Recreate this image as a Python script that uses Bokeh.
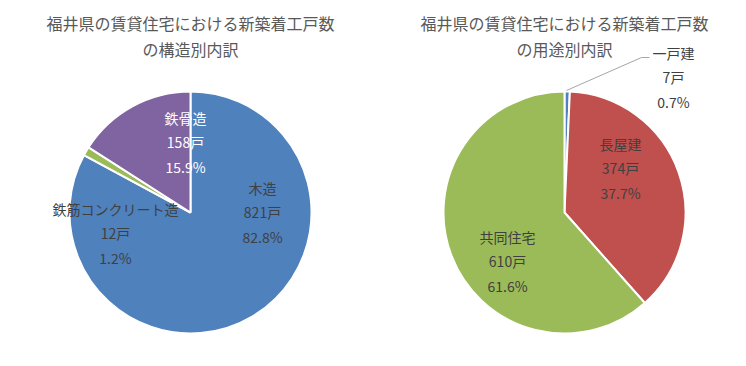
import numpy as np
from bokeh.plotting import figure
from bokeh.models import ColumnDataSource, Range1d
from bokeh.core.properties import value
from bokeh.embed import file_html
from bokeh.resources import INLINE

# ---- data ----
left_title = ["福井県の賃貸住宅における新築着工戸数", "の構造別内訳"]
left_names = ["木造", "鉄筋コンクリート造", "鉄骨造"]
left_counts = [821, 12, 158]
left_pcts = ["82.8%", "1.2%", "15.9%"]
left_colors = ["#4F81BD", "#9BBB59", "#8064A2"]
left_text_colors = ["#404040", "#404040", "#FFFFFF"]

right_title = ["福井県の賃貸住宅における新築着工戸数", "の用途別内訳"]
right_names = ["一戸建", "長屋建", "共同住宅"]
right_counts = [7, 374, 610]
right_pcts = ["0.7%", "37.7%", "61.6%"]
right_colors = ["#4F81BD", "#C0504D", "#9BBB59"]
right_text_colors = ["#404040", "#404040", "#404040"]

W, H = 730, 350
FONT = "Noto Sans CJK JP"

p = figure(width=W, height=H, output_backend="svg", toolbar_location=None,
           x_range=Range1d(-8, W - 8), y_range=Range1d(8, H + 8),
           min_border=0, outline_line_color=None)
p.axis.visible = False
p.grid.visible = False
p.background_fill_color = "white"
p.border_fill_color = "white"

R = 121

def pie(cx, cy, counts, colors, names, pcts, tcolors, title, label_offsets):
    c = np.array(counts, dtype=float)
    frac = c / c.sum()
    ends = np.cumsum(frac)
    starts = ends - frac
    start_ang = np.pi / 2 - starts * 2 * np.pi
    end_ang = np.pi / 2 - ends * 2 * np.pi
    src = ColumnDataSource(dict(x=[cx] * len(c), y=[cy] * len(c),
                                s=start_ang, e=end_ang, color=colors))
    p.wedge(x="x", y="y", radius=R, start_angle="s", end_angle="e",
            direction="clock", fill_color="color", line_color="white",
            line_width=2, source=src)
    # title
    p.text(x=[cx, cx], y=[H - 14, H - 40], text=title,
           text_font=value(FONT), text_font_size="16px", text_color="#595959",
           text_align="center", text_baseline="middle")
    # labels
    xs, ys, txt, cols = [], [], [], []
    for (dx, dy), n, cnt, pc, tc in zip(label_offsets, names, counts, pcts, tcolors):
        for k, t in enumerate([n, f"{cnt}戸", pc]):
            xs.append(cx + dx)
            ys.append(cy + dy - 24.5 * k)
            txt.append(t)
            cols.append(tc)
    p.text(x=xs, y=ys, text=txt, text_color=cols, text_font=value(FONT),
           text_font_size="14px", text_align="center", text_baseline="middle")

# left pie (center at image (190,212))
pie(182, 146, left_counts, left_colors, left_names, left_pcts, left_text_colors,
    left_title, [(72, 25), (-75, 4), (-5, 95)])
# right pie (center at image (564,212))
pie(556, 146, right_counts, right_colors, right_names, right_pcts, right_text_colors,
    right_title, [(109, 160), (56, 69), (-57, -24)])

# leader line for 一戸建
p.line(x=[558, 633, 641], y=[268, 301, 301], line_color="#A6A6A6", line_width=1)

open("out.html", "w").write(file_html(p, INLINE))
